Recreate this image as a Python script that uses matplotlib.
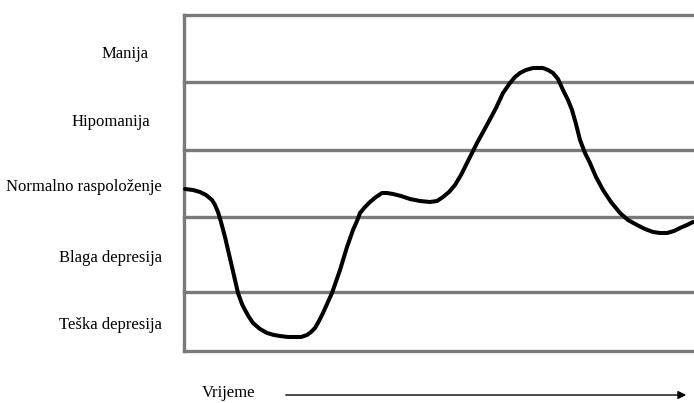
import matplotlib.pyplot as plt

# mood bands (bottom to top) and the lines that separate them
levels = [0, 59, 134, 201, 269, 336]
labels = ["Teška depresija", "Blaga depresija", "Normalno raspoloženje", "Hipomanija", "Manija"]
label_y = [26, 93, 164, 229, 297]
label_x = [-22, -22, -22, -34, -35]

# hand drawn mood curve
t = [1, 9, 16, 22, 28, 31, 34, 37, 41, 48, 54, 58, 61, 65, 69, 76, 83, 90, 96, 104, 111, 117,
     123, 127, 131, 135, 139, 148, 156, 163, 169, 173, 176, 181, 186, 192, 198, 203, 209,
     217, 226, 236, 246, 253, 259, 265, 271, 277, 283, 293, 304, 312, 319, 326, 331, 336,
     342, 349, 354, 359, 364, 369, 374, 379, 384, 388, 392, 396, 401, 406, 412, 419, 427,
     436, 444, 453, 461, 469, 476, 483, 490, 496, 503, 509]
mood = [162, 161, 159, 156, 151, 146, 139, 129, 114, 84, 58, 47, 41, 34, 28, 22, 18, 16, 15,
        14, 14, 14, 16, 19, 23, 30, 38, 58, 81, 104, 121, 130, 138, 144, 149, 154, 158, 158,
        157, 155, 152, 150, 149, 150, 154, 159, 166, 176, 188, 208, 228, 243, 258, 268, 274,
        278, 281, 283, 283, 283, 281, 278, 272, 261, 251, 241, 227, 211, 198, 188, 174, 161,
        149, 138, 131, 126, 122, 119, 118, 118, 120, 123, 126, 129]

fig = plt.figure(figsize=(6.94, 4.03), dpi=100)
ax = fig.add_axes([184 / 694, 52 / 403, 510 / 694, 336 / 403])
ax.set_xlim(0, 510)
ax.set_ylim(0, 336)
ax.axis("off")

for lv in levels:
    ax.axhline(lv, color="#7a7a7a", lw=2.4, clip_on=False, zorder=1)
ax.axvline(0, color="#7a7a7a", lw=2.4, clip_on=False, zorder=1)

ax.plot(t, mood, color="black", lw=2.9, solid_capstyle="round", solid_joinstyle="round",
        clip_on=False, zorder=3)

for lab, ly, lx in zip(labels, label_y, label_x):
    ax.text(lx, ly, lab, ha="right", va="center", fontsize=12,
            family="Liberation Serif")

ax.text(45, -42, "Vrijeme", ha="center", va="center", fontsize=12,
        family="Liberation Serif", clip_on=False)
ax.annotate("", xy=(505, -44), xytext=(99, -44),
            arrowprops=dict(arrowstyle="-|>", color="black", lw=1.0,
                            mutation_scale=12), annotation_clip=False)

fig.savefig("out.png", dpi=100)
